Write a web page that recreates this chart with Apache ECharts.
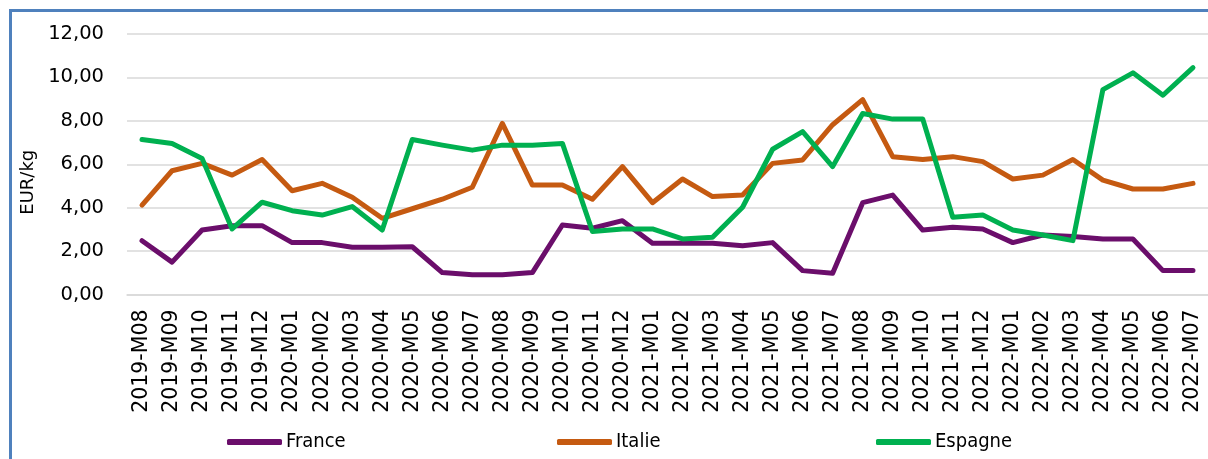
<!DOCTYPE html>
<html>
<head>
<meta charset="utf-8">
<script src="https://cdn.jsdelivr.net/npm/echarts@6/dist/echarts.min.js"></script>
<style>
  html, body { margin: 0; padding: 0; background: #fff; overflow: hidden; }
  #chart { position: absolute; left: 0; top: 0; width: 1208px; height: 459px; }
  #frame { position: absolute; left: 9px; top: 9px; width: 1220px; height: 480px;
           border: 3px solid #4F81BD; pointer-events: none; box-sizing: border-box; }
</style>
</head>
<body>
<div id="chart"></div>
<div id="frame"></div>
<script>
// monthly prices, EUR/kg
var months = ['2019-M08', '2019-M09', '2019-M10', '2019-M11', '2019-M12',
  '2020-M01', '2020-M02', '2020-M03', '2020-M04', '2020-M05', '2020-M06', '2020-M07',
  '2020-M08', '2020-M09', '2020-M10', '2020-M11', '2020-M12',
  '2021-M01', '2021-M02', '2021-M03', '2021-M04', '2021-M05', '2021-M06', '2021-M07',
  '2021-M08', '2021-M09', '2021-M10', '2021-M11', '2021-M12',
  '2022-M01', '2022-M02', '2022-M03', '2022-M04', '2022-M05', '2022-M06', '2022-M07'];

var france = [2.48, 1.49, 2.97, 3.17, 3.17, 2.39, 2.39, 2.18, 2.18, 2.2, 1.01, 0.91,
  0.91, 1.01, 3.2, 3.05, 3.4, 2.36, 2.36, 2.36, 2.25, 2.39, 1.1, 0.98,
  4.23, 4.58, 2.97, 3.1, 3.02, 2.39, 2.74, 2.67, 2.56, 2.56, 1.1, 1.1];

var italie = [4.12, 5.7, 6.04, 5.5, 6.22, 4.78, 5.12, 4.48, 3.51, 3.95, 4.39, 4.94,
  7.88, 5.04, 5.04, 4.39, 5.89, 4.23, 5.32, 4.51, 4.58, 6.04, 6.2, 7.82,
  8.98, 6.35, 6.22, 6.35, 6.12, 5.32, 5.5, 6.22, 5.27, 4.86, 4.86, 5.12];

var espagne = [7.14, 6.96, 6.27, 3.02, 4.25, 3.86, 3.66, 4.05, 2.97, 7.14, 6.88, 6.65,
  6.88, 6.88, 6.96, 2.9, 3.02, 3.02, 2.56, 2.64, 4.02, 6.69, 7.5, 5.89,
  8.34, 8.08, 8.08, 3.56, 3.66, 2.97, 2.74, 2.48, 9.44, 10.21, 9.18, 10.45];

var yTicks = { min: 0, max: 12, interval: 2 };

var font = 'DejaVu Sans';
var ink = '#000000';
var gridColor = '#D9D9D9';

function lineSeries(name, data, color) {
  return {
    name: name,
    type: 'line',
    data: data,
    symbol: 'none',
    lineStyle: { color: color, width: 5, cap: 'round', join: 'round' },
    itemStyle: { color: color }
  };
}

function legendAt(name, left) {
  return {
    data: [name],
    left: left,
    top: 431,
    padding: 0,
    icon: 'roundRect',
    itemWidth: 55,
    itemHeight: 6,
    itemGap: 0,
    textStyle: { fontFamily: 'DejaVu Sans Condensed', fontSize: 20, lineHeight: 22, color: ink, padding: [0, 0, 0, -1] }
  };
}

var chart = echarts.init(document.getElementById('chart'), null, { renderer: 'canvas' });
chart.setOption({
  animation: false,
  textStyle: { fontFamily: font },
  grid: { left: 127, top: 34, width: 1085, bottom: 164.5 },
  legend: [
    legendAt('France', 227),
    legendAt('Italie', 557),
    legendAt('Espagne', 876)
  ],
  xAxis: {
    type: 'category',
    data: months,
    boundaryGap: true,
    axisLine: { lineStyle: { color: gridColor, width: 1.5 } },
    axisTick: { show: false },
    axisLabel: { rotate: 90, interval: 0, margin: 15, color: ink, fontSize: 20.5, fontFamily: font }
  },
  yAxis: {
    type: 'value',
    min: yTicks.min,
    max: yTicks.max,
    interval: yTicks.interval,
    name: 'EUR/kg',
    nameLocation: 'middle',
    nameGap: 80,
    nameTextStyle: { color: ink, fontSize: 18, fontFamily: font, padding: [0, 36, 0, 0] },
    axisLine: { show: false },
    axisTick: { show: false },
    splitLine: { lineStyle: { color: gridColor, width: 1.5 } },
    axisLabel: {
      color: ink, fontSize: 19.5, margin: 23, fontFamily: font,
      formatter: function (v) { return v.toFixed(2).replace('.', ','); }
    }
  },
  series: [
    lineSeries('France', france, '#6B0E6B'),
    lineSeries('Italie', italie, '#C55A11'),
    lineSeries('Espagne', espagne, '#00B050')
  ]
});
window.addEventListener('resize', function () { chart.resize(); });
</script>
</body>
</html>
